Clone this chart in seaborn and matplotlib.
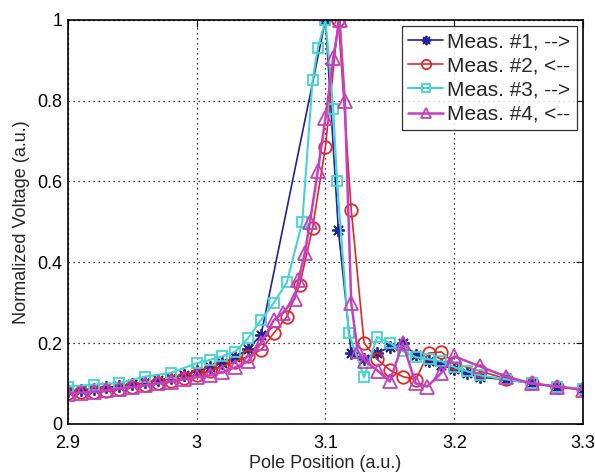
import matplotlib
matplotlib.use("Agg")
import matplotlib.pyplot as plt
import seaborn as sns

# Meas. #1 (forward)
x1 = [2.90, 2.91, 2.92, 2.93, 2.94, 2.95, 2.96, 2.97, 2.98, 2.99, 3.00, 3.01, 3.02, 3.03, 3.04, 3.05,
      3.10, 3.11, 3.12, 3.13, 3.14, 3.15, 3.16, 3.17, 3.18, 3.19, 3.20, 3.21, 3.22, 3.24, 3.26, 3.28, 3.30]
y1 = [0.08, 0.083, 0.087, 0.09, 0.094, 0.098, 0.103, 0.108, 0.114, 0.121, 0.13, 0.14, 0.15, 0.165, 0.185, 0.22,
      1.0, 0.48, 0.175, 0.16, 0.175, 0.19, 0.20, 0.17, 0.155, 0.145, 0.135, 0.125, 0.115, 0.11, 0.10, 0.092, 0.085]

# Meas. #2 (backward)
x2 = [2.90, 2.91, 2.92, 2.93, 2.94, 2.95, 2.96, 2.97, 2.98, 2.99, 3.00, 3.01, 3.02, 3.03, 3.04, 3.05,
      3.06, 3.07, 3.08, 3.09, 3.10, 3.11, 3.12, 3.13, 3.14, 3.15, 3.16, 3.17, 3.18, 3.19, 3.20,
      3.22, 3.24, 3.26, 3.28, 3.30]
y2 = [0.077, 0.078, 0.079, 0.08, 0.086, 0.092, 0.097, 0.10, 0.107, 0.114, 0.12, 0.13, 0.142, 0.154, 0.167, 0.183,
      0.225, 0.265, 0.344, 0.485, 0.686, 1.0, 0.53, 0.20, 0.16, 0.133, 0.117, 0.109, 0.175, 0.178, 0.15,
      0.13, 0.112, 0.10, 0.092, 0.085]

# Meas. #3 (forward)
x3 = [2.90, 2.92, 2.94, 2.96, 2.98, 3.00, 3.01, 3.02, 3.03, 3.04, 3.05, 3.06, 3.07, 3.082,
      3.09, 3.094, 3.10, 3.106, 3.109, 3.118, 3.13, 3.14, 3.15, 3.16, 3.17, 3.18, 3.19, 3.20,
      3.21, 3.22, 3.24, 3.26, 3.28, 3.30]
y3 = [0.092, 0.097, 0.101, 0.117, 0.126, 0.15, 0.158, 0.167, 0.179, 0.212, 0.257, 0.30, 0.35, 0.50,
      0.85, 0.93, 1.0, 0.78, 0.60, 0.225, 0.115, 0.215, 0.20, 0.18, 0.165, 0.16, 0.155, 0.14,
      0.13, 0.12, 0.11, 0.10, 0.092, 0.087]

# Meas. #4 (backward)
x4 = [2.90, 2.91, 2.92, 2.93, 2.94, 2.95, 2.96, 2.97, 2.98, 2.99, 3.00, 3.01, 3.02, 3.03, 3.04, 3.05,
      3.06, 3.067, 3.076, 3.079, 3.084, 3.088, 3.094, 3.10, 3.106, 3.111, 3.115, 3.12, 3.125, 3.131,
      3.141, 3.15, 3.16, 3.17, 3.179, 3.19, 3.20, 3.22, 3.24, 3.26, 3.28, 3.30]
y4 = [0.075, 0.077, 0.079, 0.083, 0.087, 0.091, 0.095, 0.10, 0.104, 0.11, 0.115, 0.12, 0.128, 0.14, 0.155, 0.20,
      0.257, 0.275, 0.31, 0.356, 0.423, 0.50, 0.625, 0.757, 0.906, 1.0, 0.80, 0.30, 0.18, 0.155,
      0.13, 0.105, 0.20, 0.10, 0.092, 0.126, 0.167, 0.142, 0.117, 0.10, 0.092, 0.084]

labels = ["Meas. #1, -->", "Meas. #2, <--", "Meas. #3, -->", "Meas. #4, <--"]
colors = ["#22229a", "#e02828", "#44d4d4", "#c440c0"]
markers = [(8, 2, 0), "o", "s", "^"]  # 8-arm asterisk like matlab '*'
msizes = [9, 9, 7, 10]
lwidths = [1.2, 1.2, 1.5, 1.8]

sns.set_style("white")
plt.rcParams['font.family'] = ['Liberation Sans', 'DejaVu Sans']

fig = plt.figure(figsize=(5.95, 4.73), dpi=100)
ax = fig.add_axes([0.114, 0.104, 0.866, 0.854])

series = [(x1, y1), (x2, y2), (x3, y3), (x4, y4)]
for i, (xs, ys) in enumerate(series):
    sns.lineplot(x=xs, y=ys, ax=ax, sort=False, color=colors[i], marker=markers[i],
                 markersize=msizes[i], linewidth=lwidths[i], label=labels[i],
                 markerfacecolor="none", markeredgecolor=colors[i], markeredgewidth=1.3)

ax.set_xlim(2.9, 3.3)
ax.set_ylim(0, 1)
ax.set_xticks([2.9, 3.0, 3.1, 3.2, 3.3])
ax.set_xticklabels(["2.9", "3", "3.1", "3.2", "3.3"])
ax.set_yticks([0, 0.2, 0.4, 0.6, 0.8, 1.0])
ax.set_yticklabels(["0", "0.2", "0.4", "0.6", "0.8", "1"])
ax.tick_params(direction="in", length=5, labelsize=13, colors="black", top=True, right=True)
ax.tick_params(axis="x", pad=8)
ax.tick_params(axis="y", pad=4)
ax.grid(True, linestyle=(0, (1, 3)), color="black", linewidth=0.9)
for s in ax.spines.values():
    s.set_color("black")
    s.set_linewidth(1.2)

ax.set_xlabel("Pole Position (a.u.)", fontsize=13, labelpad=2)
ax.set_ylabel("Normalized Voltage (a.u.)", fontsize=13, labelpad=5)

leg = ax.legend(loc="upper right", fontsize=15, frameon=True, fancybox=False,
                borderaxespad=0.3, handlelength=1.7, handletextpad=0.2,
                labelspacing=0.25, borderpad=0.3, markerscale=0.75)
leg.get_frame().set_edgecolor("black")
leg.get_frame().set_linewidth(0.9)

fig.savefig("out.png", dpi=100)
